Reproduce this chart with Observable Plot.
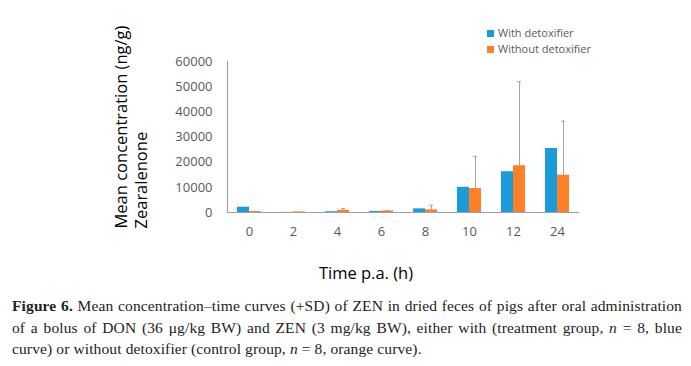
<!DOCTYPE html>
<html>
<head>
<meta charset="utf-8">
<script src="https://cdn.jsdelivr.net/npm/d3@7"></script>
<script src="https://cdn.jsdelivr.net/npm/@observablehq/plot@0.6"></script>
<style>
  html, body { margin: 0; padding: 0; background: #fff; }
  #wrap { position: relative; width: 691px; height: 366px; overflow: hidden; }
  #chart { position: absolute; left: 0; top: 0; }
  .legend { position: absolute; left: 487px; font: 11px "Open Sans", sans-serif; color: #595959; white-space: nowrap; }
  .legend span.sw { display: inline-block; width: 7px; height: 7px; margin-right: 4px; vertical-align: 0px; }
  #caption { position: absolute; left: 12px; top: 295px; width: 670px; font: 15.5px/21.5px "Liberation Serif", serif; color: #222; letter-spacing: 0.12px; }
  #caption div.j { text-align: justify; text-align-last: justify; }
</style>
</head>
<body>
<div id="wrap">
  <div id="chart"></div>
  <div class="legend" style="top:25px"><span class="sw" style="background:#1b9bd8"></span>With detoxifier</div>
  <div class="legend" style="top:41px"><span class="sw" style="background:#fd7f27"></span>Without detoxifier</div>
  <div id="caption">
    <div class="j"><b>Figure 6.</b> Mean concentration–time curves (+SD) of ZEN in dried feces of pigs after oral administration</div>
    <div class="j">of a bolus of DON (36 μg/kg BW) and ZEN (3 mg/kg BW), either with (treatment group, <i>n</i> = 8, blue</div>
    <div>curve) or without detoxifier (control group, <i>n</i> = 8, orange curve).</div>
  </div>
</div>
<script>
const times = ["0", "2", "4", "6", "8", "10", "12", "24"];
const series = ["With detoxifier", "Without detoxifier"];
const withDetox = [2100, 50, 300, 400, 1450, 10000, 16200, 25450];
const withoutDetox = [400, 250, 900, 600, 1050, 9500, 18600, 14800];
const withoutSD = [0, 0, 700, 200, 1850, 12800, 33400, 21500];
const yTicks = [0, 10000, 20000, 30000, 40000, 50000, 60000];
const colors = ["#1b9bd8", "#fd7f27"];

const data = [];
times.forEach((t, i) => {
  data.push({time: t, series: series[0], value: withDetox[i], sd: 0});
  data.push({time: t, series: series[1], value: withoutDetox[i], sd: withoutSD[i]});
});
const errs = data.filter(d => d.sd > 0);

const chart = Plot.plot({
  width: 691,
  height: 290,
  marginLeft: 225,
  marginRight: 111,
  marginTop: 61,
  marginBottom: 78,
  style: {fontFamily: "Open Sans, sans-serif", fontSize: "13px", color: "#595959", background: "transparent"},
  fx: {domain: times, padding: 0, label: null, axis: null},
  x: {domain: series, paddingInner: 0, paddingOuter: 0.76, axis: null},
  y: {domain: [0, 60000], ticks: yTicks},
  color: {domain: series, range: colors},
  marks: [
    Plot.barY(data, {fx: "time", x: "series", y: "value", fill: "series"}),
    Plot.ruleX(errs, {fx: "time", x: "series", y1: "value", y2: d => d.value + d.sd, stroke: "#a6a6a6", strokeWidth: 1}),
    Plot.tickY(errs, {fx: "time", x: "series", y: d => d.value + d.sd, stroke: "#a6a6a6", strokeWidth: 1, insetLeft: 4, insetRight: 4}),
    Plot.ruleY([0], {stroke: "#a0a0a0", strokeWidth: 1.2}),
    Plot.frame({anchor: "left", facetAnchor: "left", stroke: "#a0a0a0", strokeWidth: 1.2}),
    Plot.axisY({ticks: yTicks, tickSize: 0, tickPadding: 15, tickFormat: d => String(d), label: null, fill: "#595959", fontSize: 13}),
    Plot.axisFx({anchor: "bottom", tickSize: 0, tickPadding: 14, label: null, fill: "#595959", fontSize: 13}),
    Plot.text(["Mean concentration (ng/g)"], {frameAnchor: "bottom-left", facetAnchor: "left", text: d => d, rotate: -90, textAnchor: "start", lineAnchor: "middle", dx: -106, dy: 16, fontSize: 16.5, fill: "#000"}),
    Plot.text(["Zearalenone"], {frameAnchor: "bottom-left", facetAnchor: "left", text: d => d, rotate: -90, textAnchor: "start", lineAnchor: "middle", dx: -86, dy: 16, fontSize: 16.5, fill: "#000"})
  ]
});
document.getElementById("chart").appendChild(chart);

// x-axis title as real text below the plot
const xt = document.createElement("div");
xt.textContent = "Time p.a. (h)";
Object.assign(xt.style, {position: "absolute", left: "0", width: "732px", textAlign: "center", top: "261px", font: "16.5px 'Open Sans', sans-serif", color: "#000"});
document.getElementById("wrap").appendChild(xt);
</script>
</body>
</html>
